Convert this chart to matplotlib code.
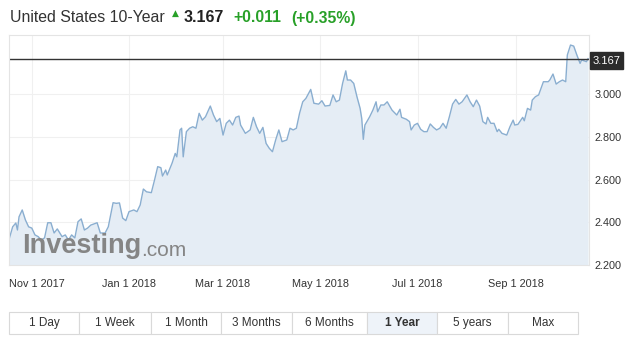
import matplotlib
matplotlib.use("Agg")
from matplotlib import pyplot as plt
from matplotlib.patches import Rectangle
import pandas as pd

plt.rcParams['font.family'] = ['Liberation Sans', 'DejaVu Sans']

# days after 2017-11-01 and the yield
days = [-14, -12, -10, -9, -8, -6, -4, -2, 0, 2, 4, 6, 8, 10, 12, 14, 16, 19, 21, 23,
        25, 27, 29, 31, 33, 35, 37, 41, 43, 46, 48, 51, 53, 55, 57, 59, 61, 64, 66, 68,
        70, 72, 75, 77, 79, 81, 82, 84, 85, 88, 90, 91, 93, 94, 95, 97, 99, 101, 103, 105,
        107, 109, 112, 114, 116, 118, 120, 122, 124, 126, 128, 130, 131, 134, 137, 139, 141, 143, 145, 147,
        149, 151, 153, 155, 157, 160, 162, 164, 166, 168, 170, 172, 175, 177, 180, 182, 184, 187, 189, 191,
        193, 195, 197, 198, 200, 202, 204, 206, 207, 208, 209, 212, 214, 216, 217, 219, 221, 223, 226, 229,
        231, 232, 235, 237, 238, 240, 242, 244, 246, 248, 250, 252, 254, 256, 258, 260, 262, 264, 266, 268,
        270, 273, 275, 277, 279, 281, 283, 285, 286, 288, 290, 292, 293, 295, 298, 300, 302, 303, 305, 308,
        309, 311, 313, 314, 316, 318, 321, 324, 325, 327, 329, 331, 333, 335, 336, 338, 340, 342, 344, 345,
        348, 349]
yields = [2.327, 2.379, 2.397, 2.364, 2.426, 2.458, 2.411, 2.379, 2.373, 2.341, 2.333, 2.317, 2.327, 2.398, 2.398, 2.350, 2.369, 2.333, 2.341, 2.317,
          2.341, 2.327, 2.403, 2.416, 2.364, 2.373, 2.387, 2.398, 2.350, 2.350, 2.379, 2.492, 2.489, 2.491, 2.420, 2.408, 2.450, 2.458, 2.450, 2.481,
          2.556, 2.543, 2.539, 2.598, 2.661, 2.656, 2.617, 2.645, 2.622, 2.677, 2.723, 2.707, 2.833, 2.841, 2.707, 2.825, 2.841, 2.848, 2.841, 2.911,
          2.879, 2.895, 2.945, 2.903, 2.872, 2.887, 2.809, 2.864, 2.879, 2.856, 2.892, 2.898, 2.856, 2.817, 2.833, 2.892, 2.848, 2.817, 2.845, 2.770,
          2.747, 2.731, 2.786, 2.833, 2.778, 2.786, 2.841, 2.833, 2.841, 2.911, 2.965, 2.981, 3.023, 2.958, 2.954, 2.970, 2.945, 2.948, 2.997, 2.965,
          2.973, 3.051, 3.110, 3.067, 3.067, 3.051, 2.989, 2.934, 2.887, 2.789, 2.856, 2.895, 2.926, 2.965, 2.918, 2.950, 2.950, 2.965, 2.926, 2.903,
          2.930, 2.892, 2.883, 2.872, 2.833, 2.856, 2.864, 2.836, 2.825, 2.825, 2.861, 2.845, 2.833, 2.841, 2.864, 2.841, 2.895, 2.954, 2.976, 2.954,
          2.965, 2.997, 2.965, 2.942, 2.973, 2.945, 2.872, 2.861, 2.892, 2.864, 2.864, 2.825, 2.836, 2.817, 2.809, 2.848, 2.879, 2.856, 2.859, 2.892,
          2.876, 2.934, 2.926, 2.973, 2.989, 2.997, 3.059, 3.059, 3.067, 3.095, 3.048, 3.059, 3.067, 3.059, 3.184, 3.231, 3.226, 3.184, 3.145, 3.161,
          3.153, 3.167]

last = 3.167
yticks = [2.2, 2.4, 2.6, 2.8, 3.0]
xtick_dates = ['2017-11-01', '2018-01-01', '2018-03-01', '2018-05-01', '2018-07-01', '2018-09-01']
xtick_labels = ['Nov 1 2017', 'Jan 1 2018', 'Mar 1 2018', 'May 1 2018', 'Jul 1 2018', 'Sep 1 2018']
buttons = ['1 Day', '1 Week', '1 Month', '3 Months', '6 Months', '1 Year', '5 years', 'Max']
button_edges = [9, 79, 151, 221, 292, 367, 437, 508, 578]
active = '1 Year'

W, H = 634, 341
base = pd.Timestamp('2017-11-01')
dates = base + pd.to_timedelta(days, unit='D')
tick_pos = pd.to_datetime(xtick_dates)

fig = plt.figure(figsize=(W / 100, H / 100), dpi=100)


def fx(px):
    return px / W


def fy(py):
    return 1 - py / H


ax = fig.add_axes([fx(9), fy(265), fx(589) - fx(9), fy(35) - fy(265)])
line_col = '#8aaed0'
ax.fill_between(dates, yields, 2.0, color='#e5edf5', lw=0)
ax.plot(dates, yields, color=line_col, lw=1)
ax.axhline(last, color='#333333', lw=1)

ax.set_xlim(base - pd.Timedelta(days=14.3), base + pd.Timedelta(days=349.6))
ax.set_ylim(2.2, 3.278)
ax.set_yticks(yticks)
ax.set_yticklabels(['%.3f' % v for v in yticks])
ax.set_xticks(tick_pos)
# the first date label is nudged right in the original, so it is drawn separately
ax.set_xticklabels([''] + xtick_labels[1:])
ax.annotate(xtick_labels[0], (tick_pos[0], 0), xycoords=('data', 'axes fraction'),
            xytext=(3.6, -10), textcoords='offset points', ha='center', va='top',
            fontsize=7.8, color='#333333', annotation_clip=False)
ax.yaxis.tick_right()
ax.tick_params(axis='both', length=0, labelsize=7.8, labelcolor='#333333')
ax.tick_params(axis='y', pad=4)
ax.tick_params(axis='x', pad=10)
ax.grid(True, color='#f0f0f0', lw=0.8)
ax.set_axisbelow(True)
for s in ax.spines.values():
    s.set_color('#e4e4e4')
    s.set_linewidth(0.8)

# last value label
fig.patches.append(Rectangle((fx(590), fy(69)), fx(33), fy(52) - fy(69),
                             transform=fig.transFigure, color='#2b2b2b'))
fig.text(fx(606.5), fy(60.5), '3.167', color='white', fontsize=8, ha='center', va='center')

# watermark
fig.text(fx(22), fy(246), 'Investing', fontsize=19.5, fontweight='bold', color='#858585',
         va='center', ha='left')
fig.text(fx(141), fy(250), '.com', fontsize=15, color='#858585', va='center', ha='left')

# header
green = '#28a028'
fig.text(fx(10), fy(18), 'United States 10-Year', fontsize=11.4, color='#333333', va='center')
fig.text(fx(175.5), fy(13), '\u25B2', fontsize=6.5, color=green, va='center', ha='center',
         family='DejaVu Sans')
fig.text(fx(184), fy(18), '3.167', fontsize=11.5, fontweight='bold', color='#222222', va='center')
fig.text(fx(233), fy(18), '+0.011', fontsize=11.3, fontweight='bold', color=green, va='center')
fig.text(fx(291), fy(18), '(+0.35%)', fontsize=11.3, fontweight='bold', color=green, va='center')

# period buttons
for i, b in enumerate(buttons):
    x0, x1 = button_edges[i], button_edges[i + 1]
    face = '#eef3f9' if b == active else 'white'
    fig.patches.append(Rectangle((fx(x0), fy(334)), fx(x1 - x0), fy(312) - fy(334),
                                 transform=fig.transFigure, facecolor=face,
                                 edgecolor='#d9d9d9', lw=0.8))
    fig.text(fx((x0 + x1) / 2), fy(323), b, fontsize=8.5, color='#333333', ha='center',
             va='center', fontweight='bold' if b == active else 'normal')

fig.savefig('out.png', dpi=100)
